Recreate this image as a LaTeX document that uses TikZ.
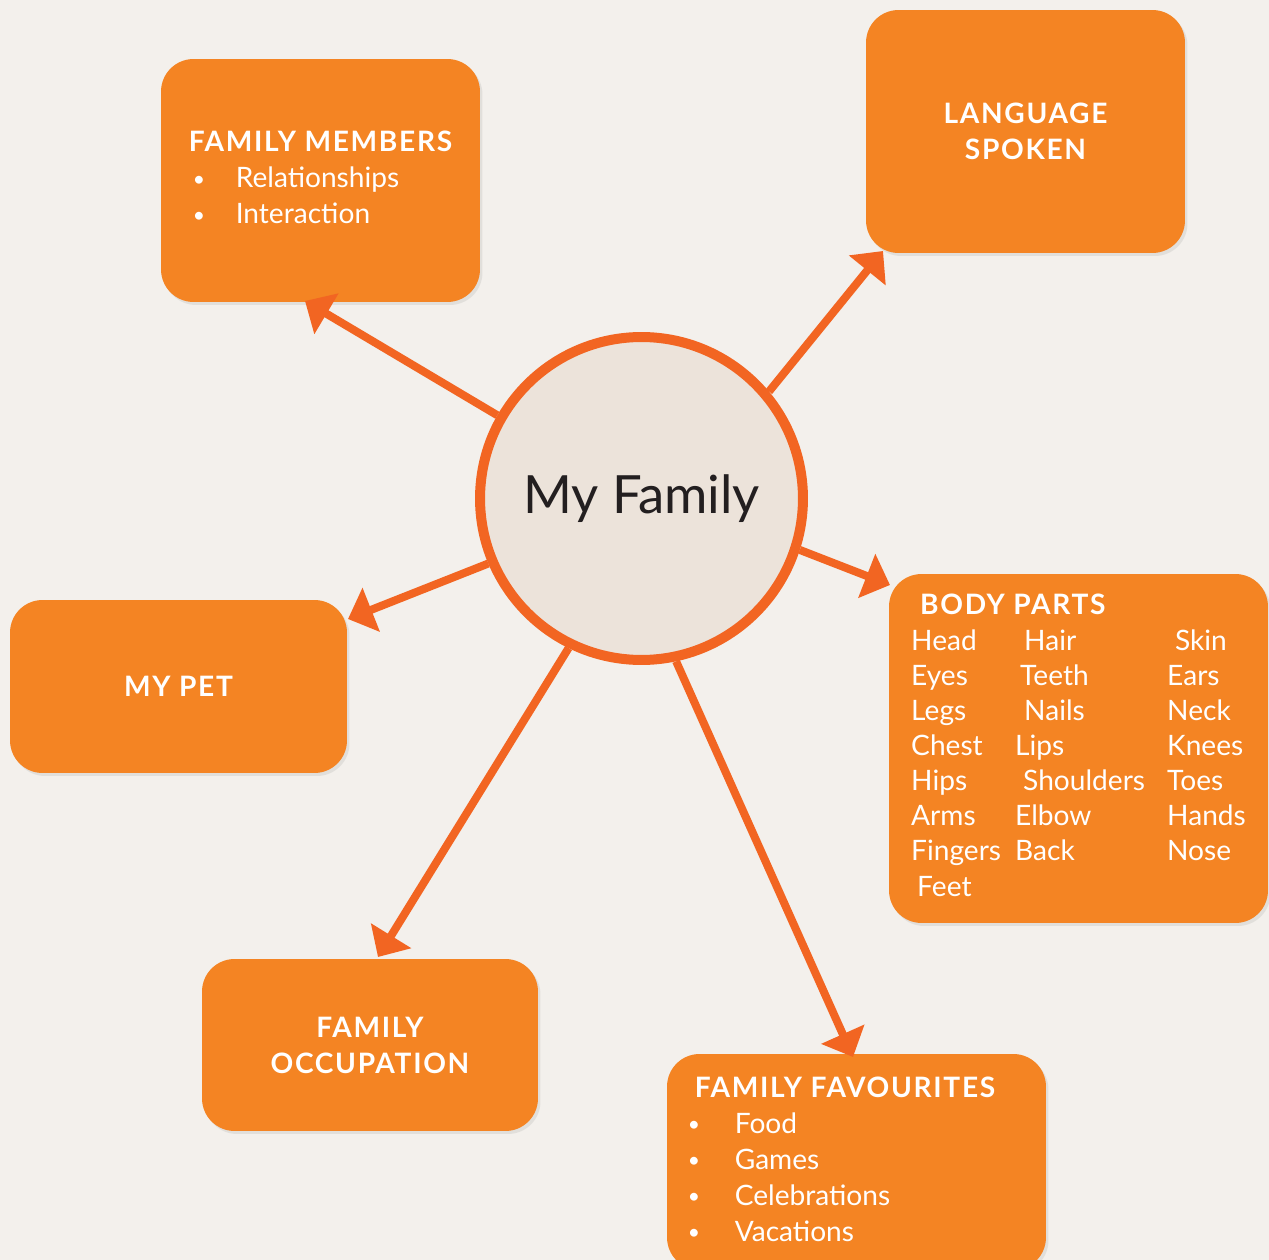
\documentclass[tikz,border=0pt]{standalone}
\usepackage{fontspec}
\setmainfont{Lato}
\newfontfamily\headfont[LetterSpace=6]{Lato}
\usetikzlibrary{arrows.meta,shadows}
\definecolor{paper}{HTML}{F3F0EC}
\definecolor{boxorange}{HTML}{F48423}
\definecolor{linkorange}{HTML}{F26522}
\definecolor{hubfill}{HTML}{ECE3DA}
\definecolor{hubtext}{HTML}{231F20}
\tikzset{
    >={Triangle[length=0.5cm, width=0.92cm]}, % Default arrow tip
    topic/.style={
        fill=boxorange, text=white, rounded corners=0.65cm,
        inner sep=0pt, align=center,
        drop shadow={shadow xshift=0.05cm, shadow yshift=-0.06cm, opacity=0.15},
        font=\fontsize{16}{20.5}\selectfont
    },
    hub/.style={
        circle, draw=linkorange, line width=0.2cm, fill=hubfill,
        minimum size=6.46cm, inner sep=0pt, text=hubtext,
        font=\fontsize{30}{36}\selectfont
    },
    link/.style={->, draw=linkorange, line width=0.16cm}
}
\def\dotitem{\raisebox{0.8pt}{\fontsize{12}{12}\selectfont\textbullet}}
\def\head{\headfont\bfseries}

\begin{document}
\begin{tikzpicture}[x=0.02cm, y=-0.02cm]
    \useasboundingbox (0, 0) rectangle (1269, 1260);
    \clip (0, 0) rectangle (1269, 1260);
    \fill [paper] (0, 0) rectangle (1269, 1260);

    \draw
        node (fm) [topic, minimum width=6.38cm, minimum height=4.86cm] at (320.5, 180.5)
            {\begin{tabular}{@{}p{0.94cm}@{}l@{}}
             \multicolumn{2}{@{}l@{}}{\head FAMILY MEMBERS}\\
             \hspace*{0.08cm}\dotitem & Relationships\\
             \hspace*{0.08cm}\dotitem & Interaction
             \end{tabular}}
        node (ls) [topic, minimum width=6.38cm, minimum height=4.86cm] at (1025.5, 131.5)
            {\head LANGUAGE\\ \head SPOKEN}
        node (pet) [topic, minimum width=6.74cm, minimum height=3.46cm] at (178.5, 686.5)
            {\head MY PET}
        node (body) [topic, minimum width=7.58cm, minimum height=6.98cm,
                font=\fontsize{16}{20}\selectfont] at (1078.5, 748.5)
            {\begin{tabular}{@{}p{2.08cm}@{}p{3.04cm}@{}l@{}}
             \multicolumn{3}{@{}l@{}}{\hspace*{0.18cm}\head BODY PARTS}\\
             Head & \hspace*{0.18cm}Hair & \hspace*{0.16cm}Skin\\
             Eyes & \hspace*{0.1cm}Teeth & Ears\\
             Legs & \hspace*{0.18cm}Nails & Neck\\
             Chest & Lips & Knees\\
             Hips & \hspace*{0.16cm}Shoulders & Toes\\
             Arms & Elbow & Hands\\
             Fingers & Back & Nose\\
             \hspace*{0.12cm}Feet & &
             \end{tabular}}
        node (occ) [topic, minimum width=6.72cm, minimum height=3.44cm] at (370, 1045)
            {\head FAMILY\\ \head OCCUPATION}
        node (fav) [topic, minimum width=7.58cm, minimum height=4.32cm] at (856.5, 1162)
            {\begin{tabular}{@{}p{0.94cm}@{}l@{}}
             \multicolumn{2}{@{}l@{}}{\hspace*{0.14cm}\head FAMILY FAVOURITES\hspace*{0.6cm}}\\
             \dotitem & Food\\
             \dotitem & Games\\
             \dotitem & Celebrations\\
             \dotitem & Vacations
             \end{tabular}}
        node (me) [hub] at (641.5, 498.5) {My Family}
    ;

    \coordinate (fmtip) at (305, 301);
    \coordinate (lstip) at (883, 251);
    \coordinate (pettip) at (348, 619);
    \coordinate (bodytip) at (890, 585);
    \coordinate (occtip) at (378, 957);
    \coordinate (favtip) at (853, 1057);

    \foreach \from/\to in {150/fmtip, 40.8/lstip, 203.4/pettip,
            342.7/bodytip, 244.4/occtip, 282.7/favtip}
        \draw [link] (me.\from) -- (\to);
\end{tikzpicture}
\end{document}
